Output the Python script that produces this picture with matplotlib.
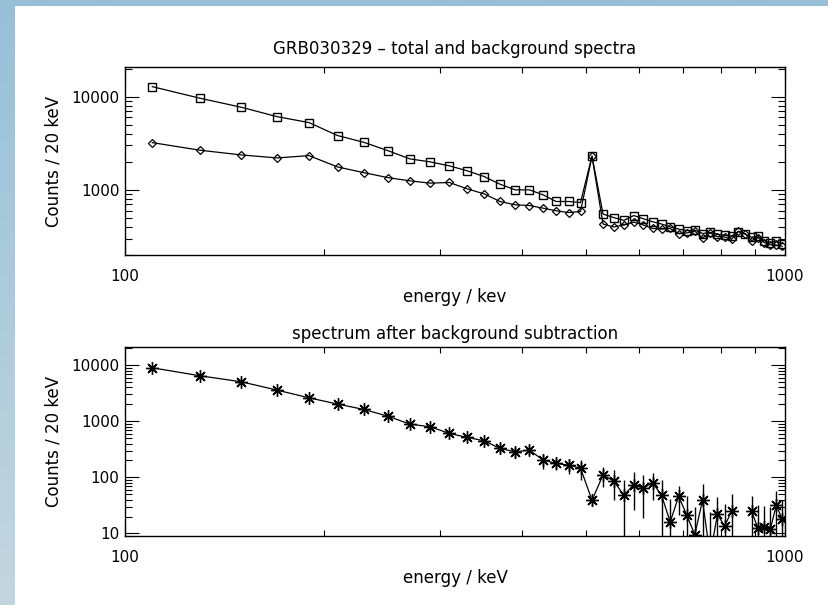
from matplotlib import pyplot as plt
from matplotlib.patches import Rectangle
from matplotlib.colors import LinearSegmentedColormap
import matplotlib.ticker as ticker
import numpy as np

# 20 keV bins, centres 110 .. 990 keV
energy = list(range(110, 1000, 20))

total = [12800, 9600, 7700, 6100, 5270, 3820, 3240, 2640, 2150, 1995,
         1810, 1600, 1390, 1150, 1000, 1000, 884, 750, 750, 731,
         2310, 550, 505, 470, 530, 490, 455, 430, 400, 380,
         365, 370, 340, 350, 335, 325, 320, 355, 335, 310,
         320, 285, 270, 285, 265]

background = [3210, 2660, 2370, 2200, 2330, 1760, 1530, 1355, 1250, 1180,
              1200, 1025, 906, 750, 691, 679, 636, 596, 571, 586,
              2280, 430, 400, 420, 450, 420, 385, 380, 385, 340,
              345, 360, 305, 345, 315, 312, 295, 360, 340, 285,
              308, 272, 258, 255, 248]

net = [8950, 6440, 5040, 3580, 2610, 2020, 1620, 1233, 888, 795,
       607, 514, 448, 327, 285, 305, 203, 177, 165, 146,
       39, 110, 86, 48, 74, 64, 80, 48, 16, 46,
       21, 9.5, 39, 4, 22, 13.5, 25, -10, -15, 25,
       12.3, 13, 11.8, 32, 18]

net_err = [95, 85, 80, 75, 70, 68, 66, 64, 62, 60,
           62, 60, 60, 66, 60, 58, 60, 41, 50, 55,
           8, 43, 47, 41, 48, 45, 40, 41, 25, 25,
           25, 20, 38, 20, 22, 20, 25, 25, 25, 22,
           20, 18, 18, 25, 22]

W, H = 829, 605


def style_axes(ax, ylim):
    ax.set_xscale('log', nonpositive='mask')
    ax.set_yscale('log', nonpositive='mask')
    ax.set_xlim(100, 1000)
    ax.set_ylim(*ylim)
    ax.xaxis.set_major_locator(ticker.LogLocator(base=10))
    ax.xaxis.set_minor_locator(ticker.LogLocator(base=10, subs=np.arange(2, 10)))
    ax.xaxis.set_major_formatter(ticker.FormatStrFormatter('%d'))
    ax.xaxis.set_minor_formatter(ticker.NullFormatter())
    ax.yaxis.set_major_locator(ticker.LogLocator(base=10))
    ax.yaxis.set_minor_locator(ticker.LogLocator(base=10, subs=np.arange(2, 10)))
    ax.yaxis.set_major_formatter(ticker.FormatStrFormatter('%d'))
    ax.yaxis.set_minor_formatter(ticker.NullFormatter())
    ax.tick_params(which='both', direction='in', top=True, right=True,
                   width=0.8, colors='black', labelsize=11)
    ax.tick_params(axis='y', which='major', length=10, pad=4)
    ax.tick_params(axis='y', which='minor', length=5)
    ax.tick_params(axis='x', which='major', length=10, pad=10)
    ax.tick_params(axis='x', which='minor', length=4)
    for s in ax.spines.values():
        s.set_linewidth(1.0)
    ax.set_ylabel('Counts / 20 keV', fontsize=12, labelpad=6)


fig = plt.figure(figsize=(W / 100, H / 100), dpi=100)
plt.rcParams['font.family'] = ['DejaVu Sans']

# blue slide frame behind everything
bg = fig.add_axes([0, 0, 1, 1], zorder=-10)
frame_cmap = LinearSegmentedColormap.from_list('frame', ['#97c0d8', '#c3d6e0'])
bg.imshow(np.linspace(0, 1, 256).reshape(-1, 1), cmap=frame_cmap,
          aspect='auto', extent=[0, 1, 0, 1], origin='upper')
bg.add_patch(Rectangle((15 / W, 0), 1, 1 - 6 / H, facecolor='white',
                       edgecolor='none', transform=bg.transAxes))
bg.set_xlim(0, 1)
bg.set_ylim(0, 1)
bg.axis('off')

# top: total and background spectra
ax1 = fig.add_axes([125 / W, 1 - 255 / H, 660 / W, 188 / H])
ax1.set_facecolor('none')
ax1.plot(energy, total, color='black', lw=0.9, marker='s', ms=6,
         mfc='none', mec='black', mew=1.0)
ax1.plot(energy, background, color='black', lw=0.9, marker='D', ms=4,
         mfc='none', mec='black', mew=0.9)
style_axes(ax1, (200, 20800))
ax1.set_title('GRB030329 \u2013 total and background spectra', fontsize=12, pad=9)
ax1.set_xlabel('energy / kev', fontsize=12, labelpad=3)

# bottom: background-subtracted spectrum with error bars
ax2 = fig.add_axes([125 / W, 1 - 536 / H, 660 / W, 189 / H])
ax2.set_facecolor('none')
pos = [i for i in range(len(net)) if net[i] > 0]
ax2.vlines([energy[i] for i in pos],
           [max(net[i] - net_err[i], 1.0) for i in pos],
           [net[i] + net_err[i] for i in pos], color='black', lw=1.0)
ax2.plot(energy, net, color='black', lw=0.9, marker=(8, 2, 0), ms=9,
         mec='black', mew=1.0)
style_axes(ax2, (9, 21000))
ax2.set_title('spectrum after background subtraction', fontsize=12, pad=6)
ax2.set_xlabel('energy / keV', fontsize=12, labelpad=3)

plt.savefig('out.png', dpi=100)
